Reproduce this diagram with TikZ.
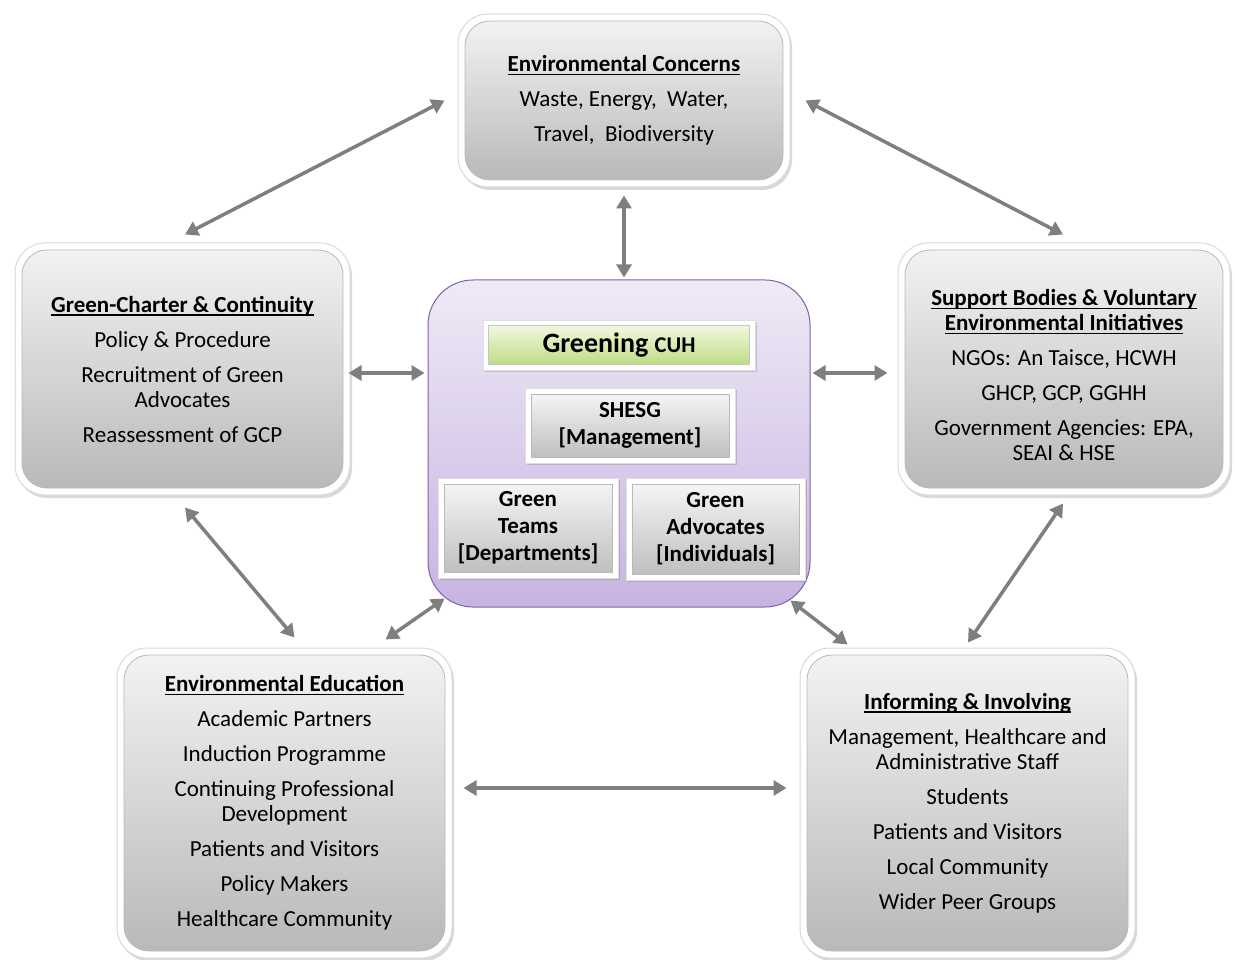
\documentclass[tikz,border=0pt]{standalone}
\usepackage{fontspec}
\setmainfont{Carlito}
\usetikzlibrary{shadows,arrows.meta,calc}
\definecolor{arrowgray}{HTML}{7F7F7F}
\definecolor{hubtop}{HTML}{EFEAF6}
\definecolor{hubbot}{HTML}{C7B3E1}
\definecolor{hubline}{HTML}{7E62A6}
\definecolor{greentop}{HTML}{F1F8DE}
\definecolor{greenbot}{HTML}{BFDC86}
\newcommand\myul[1]{\setbox0\hbox{#1}\rlap{\rule[-3.6pt]{\wd0}{1.5pt}}\box0}
\begin{document}
\begin{tikzpicture}[x=1pt,y=-1pt,
  outerbox/.style={draw=gray!30, line width=1pt, fill=white, rounded corners=30pt,
    drop shadow={shadow xshift=2pt, shadow yshift=-3pt, opacity=0.3}, inner sep=0pt},
  innerbox/.style={draw=gray!55, line width=0.8pt, top color=gray!10, bottom color=gray!55,
    rounded corners=25pt, align=center, inner sep=0pt, font=\fontsize{23}{25}\selectfont},
  smallouter/.style={fill=white, draw=gray!25, line width=0.6pt,
    drop shadow={shadow xshift=1.5pt, shadow yshift=-2pt, opacity=0.35}, inner sep=0pt},
  smallinner/.style={draw=gray!55, line width=0.8pt, top color=gray!8, bottom color=gray!50,
    font=\bfseries\fontsize{23}{27}\selectfont, align=center, inner sep=0pt},
  arr/.style={{Triangle[length=13pt,width=15pt]}-{Triangle[length=13pt,width=15pt]},
    line width=3.5pt, draw=arrowgray},
]
\useasboundingbox (0,0) rectangle (1235,960);

% ---------- outer boxes ----------
\node[outerbox, minimum width=332pt, minimum height=173pt] (top) at (624,100.5) {};
\node[innerbox, minimum width=318pt, minimum height=159pt] (topin) at (top.center)
  {\myul{\textbf{Environmental Concerns}}\\[10pt] Waste, Energy,~ Water,\\[10pt] Travel,~ Biodiversity};

\node[outerbox, minimum width=335pt, minimum height=252pt] (left) at (182.5,369) {};
\node[innerbox, minimum width=321pt, minimum height=238pt] (leftin) at (left.center)
  {\myul{\textbf{Green-Charter \& Continuity}}\\[10pt] Policy \& Procedure\\[10pt]
   Recruitment of Green\\ Advocates\\[10pt] Reassessment of GCP};

\node[outerbox, minimum width=332pt, minimum height=252pt] (right) at (1064,369) {};
\node[outerbox, draw=none, fill=none, drop shadow={opacity=0}, minimum width=1pt, minimum height=1pt] (rightc) at ([yshift=-6pt]right.center) {};
\node[innerbox, minimum width=318pt, minimum height=238pt] (rightin) at (right.center) {};
\node[align=center, inner sep=0pt, font=\fontsize{23}{25}\selectfont] (righttext) at (rightc)
  {\myul{\textbf{Support Bodies \& Voluntary}}\\ \myul{\textbf{Environmental Initiatives}}\\[10pt]
   NGOs: An Taisce, HCWH\\[10pt] GHCP, GCP, GGHH\\[10pt] Government Agencies: EPA,\\ SEAI \& HSE};

\node[outerbox, minimum width=335pt, minimum height=310pt] (bl) at (284.5,803) {};
\node[innerbox, minimum width=321pt, minimum height=296pt] (blin) at (bl.center)
  {\myul{\textbf{Environmental Education}}\\[10pt] Academic Partners\\[10pt] Induction Programme\\[10pt]
   Continuing Professional\\ Development\\[10pt] Patients and Visitors\\[10pt] Policy Makers\\[10pt]
   Healthcare Community};

\node[outerbox, minimum width=335pt, minimum height=310pt] (br) at (967.5,803) {};
\node[innerbox, minimum width=321pt, minimum height=296pt] (brin) at (br.center)
  {\myul{\textbf{Informing \& Involving}}\\[10pt] Management, Healthcare and\\ Administrative Staff\\[10pt]
   Students\\[10pt] Patients and Visitors\\[10pt] Local Community\\[10pt] Wider Peer Groups};

% ---------- central hub ----------
\node[draw=hubline, line width=1pt, top color=hubtop, bottom color=hubbot, rounded corners=45pt,
  minimum width=382pt, minimum height=327pt, inner sep=0pt] (hub) at (619,443.5) {};

\node[smallouter, minimum width=272pt, minimum height=50pt] (gr) at (619,345) {};
\node[draw=gray!45, line width=0.6pt, top color=greentop, bottom color=greenbot, inner sep=0pt,
  minimum width=261pt, minimum height=39pt, font=\bfseries] (grin) at (gr.center)
  {{\fontsize{28}{30}\selectfont Greening }{\fontsize{22.5}{30}\selectfont CUH}};

\node[smallouter, minimum width=210pt, minimum height=75pt] (sh) at (630,425.5) {};
\node[smallinner, minimum width=198pt, minimum height=63pt] (shin) at (sh.center)
  {SHESG\\{}[Management]};

\node[smallouter, minimum width=180pt, minimum height=100pt] (gt) at (528,528) {};
\node[smallinner, minimum width=168pt, minimum height=88pt] (gtin) at (gt.center)
  {Green\\Teams\\{}[Departments]};

\node[smallouter, minimum width=179pt, minimum height=102pt] (ga) at (715.5,529) {};
\node[smallinner, minimum width=167pt, minimum height=90pt] (gain) at (ga.center)
  {Green\\Advocates\\{}[Individuals]};

% ---------- connectors ----------
\draw[arr] ([xshift=2.5pt,yshift=8pt]left.north) -- ([xshift=-13pt]top.west);
\draw[arr] ([xshift=15pt]top.east) -- ([xshift=-1pt,yshift=8pt]right.north);
\draw[arr] ([yshift=-8pt]top.south) -- ([yshift=2pt]top.south |- hub.north);
\draw[arr] ([xshift=-2pt,yshift=-4pt]left.east) -- ([xshift=-3pt,yshift=-4pt]left.east -| hub.west);
\draw[arr] ([xshift=2pt,yshift=-4pt]hub.east |- right.west) -- ([xshift=-10pt,yshift=-4pt]right.west);
\draw[arr] ([xshift=2.5pt,yshift=-12pt]left.south) -- ([xshift=10pt,yshift=10pt]bl.north);
\draw[arr] ([xshift=17pt,yshift=9pt]hub.south west) -- ([xshift=-67pt,yshift=8pt]bl.north east);
\draw[arr] ([xshift=-20pt,yshift=7pt]hub.south east) -- ([xshift=48pt,yshift=3pt]br.north west);
\draw[arr] ([xshift=-1pt,yshift=-8pt]right.south) -- ([xshift=0.5pt,yshift=5pt]br.north);
\draw[arr] ([xshift=11pt,yshift=15pt]bl.east) -- ([xshift=-13pt,yshift=15pt]br.west);
\end{tikzpicture}
\end{document}
